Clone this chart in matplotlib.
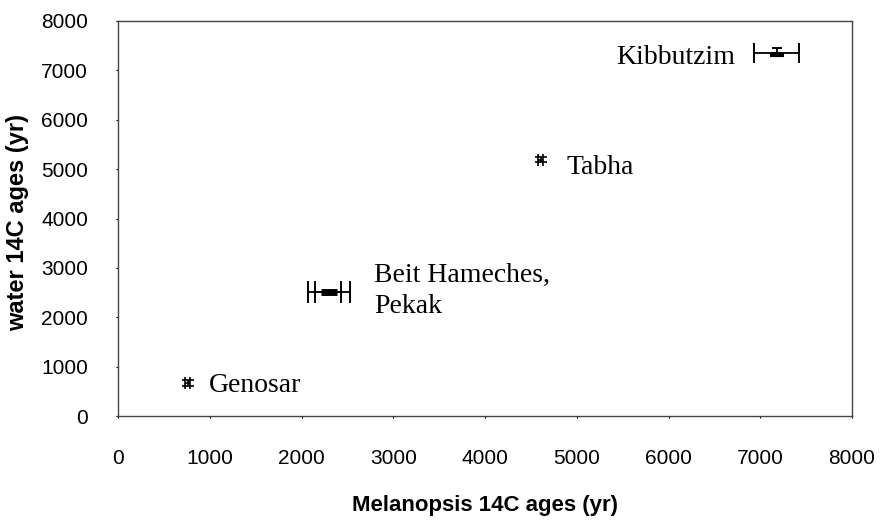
import matplotlib
matplotlib.use("Agg")
import matplotlib.pyplot as plt

# Melanopsis vs water 14C ages
sites = ["Genosar", "Beit Hameches", "Pekak", "Tabha", "Kibbutzim"]
shell_age = [760, 2298, 2288, 4607, 7180]
water_age = [670, 2520, 2520, 5190, 7345]
shell_err = [28, 231, 141, 28, 245]
water_err = [55, 0, 0, 55, 0]

fig = plt.figure(figsize=(8.84, 5.25), dpi=100)
ax = fig.add_axes([118 / 884, 1 - 416 / 525, 734 / 884, 395 / 525])

# small '#'-like symbols (Genosar, Tabha)
for i in (0, 3):
    ax.errorbar(shell_age[i], water_age[i], xerr=shell_err[i], yerr=water_err[i],
                fmt="none", ecolor="black", elinewidth=1.2, capsize=4.5, capthick=1.2)

# Beit Hameches / Pekak: two overlapping bars
for i in (1, 2):
    ax.errorbar(shell_age[i], water_age[i], xerr=shell_err[i], fmt="none",
                ecolor="black", elinewidth=1.3, capsize=8, capthick=1.4)
ax.plot([shell_age[1]], [water_age[1]], marker="_", ls="none", color="black",
        ms=12, mew=5)

# Kibbutzim
ax.errorbar(shell_age[4], water_age[4], xerr=shell_err[4], fmt="none",
            ecolor="black", elinewidth=1.3, capsize=7, capthick=1.4)
ax.errorbar(shell_age[4], water_age[4], yerr=[[0], [110]], fmt="none",
            ecolor="black", elinewidth=1.3, capsize=3.5, capthick=1.4)
ax.plot([shell_age[4]], [water_age[4] - 40], marker="_", ls="none",
        color="black", ms=10, mew=3)

serif = dict(family="Liberation Serif", fontsize=20)
ax.annotate("Genosar", (shell_age[0], water_age[0]), xytext=(21, -9),
            textcoords="offset pixels", ha="left", va="baseline", **serif)
ax.annotate("Beit Hameches,", (2300, water_age[1]), xytext=(45, 10),
            textcoords="offset pixels", ha="left", va="baseline", **serif)
ax.annotate("Pekak", (2300, water_age[2]), xytext=(45, -21),
            textcoords="offset pixels", ha="left", va="baseline", **serif)
ax.annotate("Tabha", (shell_age[3], water_age[3]), xytext=(26, -14),
            textcoords="offset pixels", ha="left", va="baseline", **serif)
ax.annotate("Kibbutzim", (shell_age[4], water_age[4]), xytext=(-42, -11),
            textcoords="offset pixels", ha="right", va="baseline", **serif)

ax.set_xlim(0, 8000)
ax.set_ylim(0, 8000)
ax.set_xticks(range(0, 8001, 1000))
ax.set_yticks(range(0, 8001, 1000))
ax.tick_params(axis="both", length=1.5, width=0.8, colors="black",
               labelsize=15, labelfontfamily="Liberation Sans")
ax.tick_params(axis="x", pad=22)
ax.tick_params(axis="y", pad=20)
for s in ax.spines.values():
    s.set_color("#444444")
    s.set_linewidth(1.0)

ax.set_xlabel("Melanopsis 14C ages (yr)", family="Liberation Sans",
              fontweight="bold", fontsize=16, va="center")
ax.set_ylabel("water 14C ages (yr)", family="Liberation Sans",
              fontweight="bold", fontsize=17, va="center")
ax.xaxis.set_label_coords(0.5, -(506 - 416) / 395)
ax.yaxis.set_label_coords((18 - 118) / 734, 0.49)

fig.savefig("out.png", dpi=100)
